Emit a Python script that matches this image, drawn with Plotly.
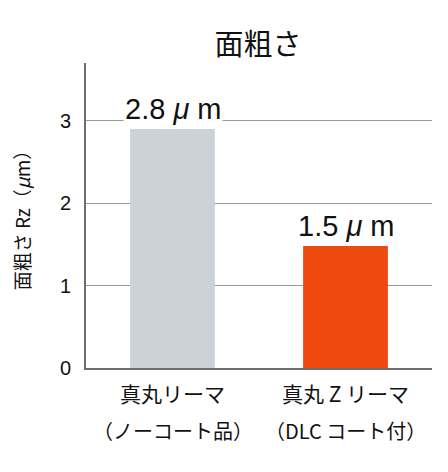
import plotly.graph_objects as go

# data
categories = ["真丸リーマ", "真丸 Z リーマ"]
sub_labels = ["（ノーコート品）", "（DLC コート付）"]
values = [2.9, 1.48]
value_labels = ["2.8 <i>μ</i> m", "1.5 <i>μ</i> m"]
bar_colors = ["#CBD2D8", "#EE4A10"]
y_ticks = [0, 1, 2, 3]

FONT = "Noto Sans CJK JP"
LATIN = "Liberation Sans"

fig = go.Figure()
fig.add_trace(go.Bar(
    x=categories, y=values,
    marker=dict(color=bar_colors, line=dict(width=0)),
    width=0.49,
    hoverinfo="skip",
))

# value labels with white box so the gridline is hidden behind them
for cat, v, lab in zip(categories, values, value_labels):
    fig.add_annotation(
        x=cat, y=v, text=lab, showarrow=False,
        yanchor="bottom", yshift=2,
        font=dict(family=LATIN, size=29, color="#111"),
        bgcolor="white", borderpad=1,
    )

# category labels, two lines each
for cat, sub in zip(categories, sub_labels):
    fig.add_annotation(x=cat, y=0, yref="paper", text=cat, showarrow=False,
                       yanchor="middle", yshift=-25,
                       font=dict(family=FONT, size=21, color="#111"))
    fig.add_annotation(x=cat, y=0, yref="paper", text=sub, showarrow=False,
                       yanchor="middle", yshift=-62,
                       font=dict(family=FONT, size=20, color="#111"))

fig.update_layout(
    width=448, height=472,
    margin=dict(l=78, r=24, t=55, b=112, autoexpand=False),
    paper_bgcolor="white", plot_bgcolor="white",
    showlegend=False,
    font=dict(family=FONT, color="#111"),
    title=dict(text="面粗さ", x=250 / 448, xanchor="center",
               y=1 - 37 / 472, yanchor="middle",
               font=dict(family=FONT, size=29, color="#111")),
    xaxis=dict(
        showline=True, linecolor="#6e6e6e", linewidth=2,
        showticklabels=False, ticks="", range=[-0.5, 1.5],
    ),
    yaxis=dict(
        range=[0, 3.7], tickvals=y_ticks,
        showline=True, linecolor="#6e6e6e", linewidth=2,
        showgrid=True, gridcolor="#9a9a9a", gridwidth=1,
        zeroline=False, ticks="", ticklabelstandoff=9,
        tickfont=dict(family=LATIN, size=20, color="#111"),
        title=dict(text="面粗さ Rz（<i>μ</i>m）", standoff=26,
                   font=dict(family=FONT, size=19, color="#111")),
    ),
)

fig.write_html("out.html")
